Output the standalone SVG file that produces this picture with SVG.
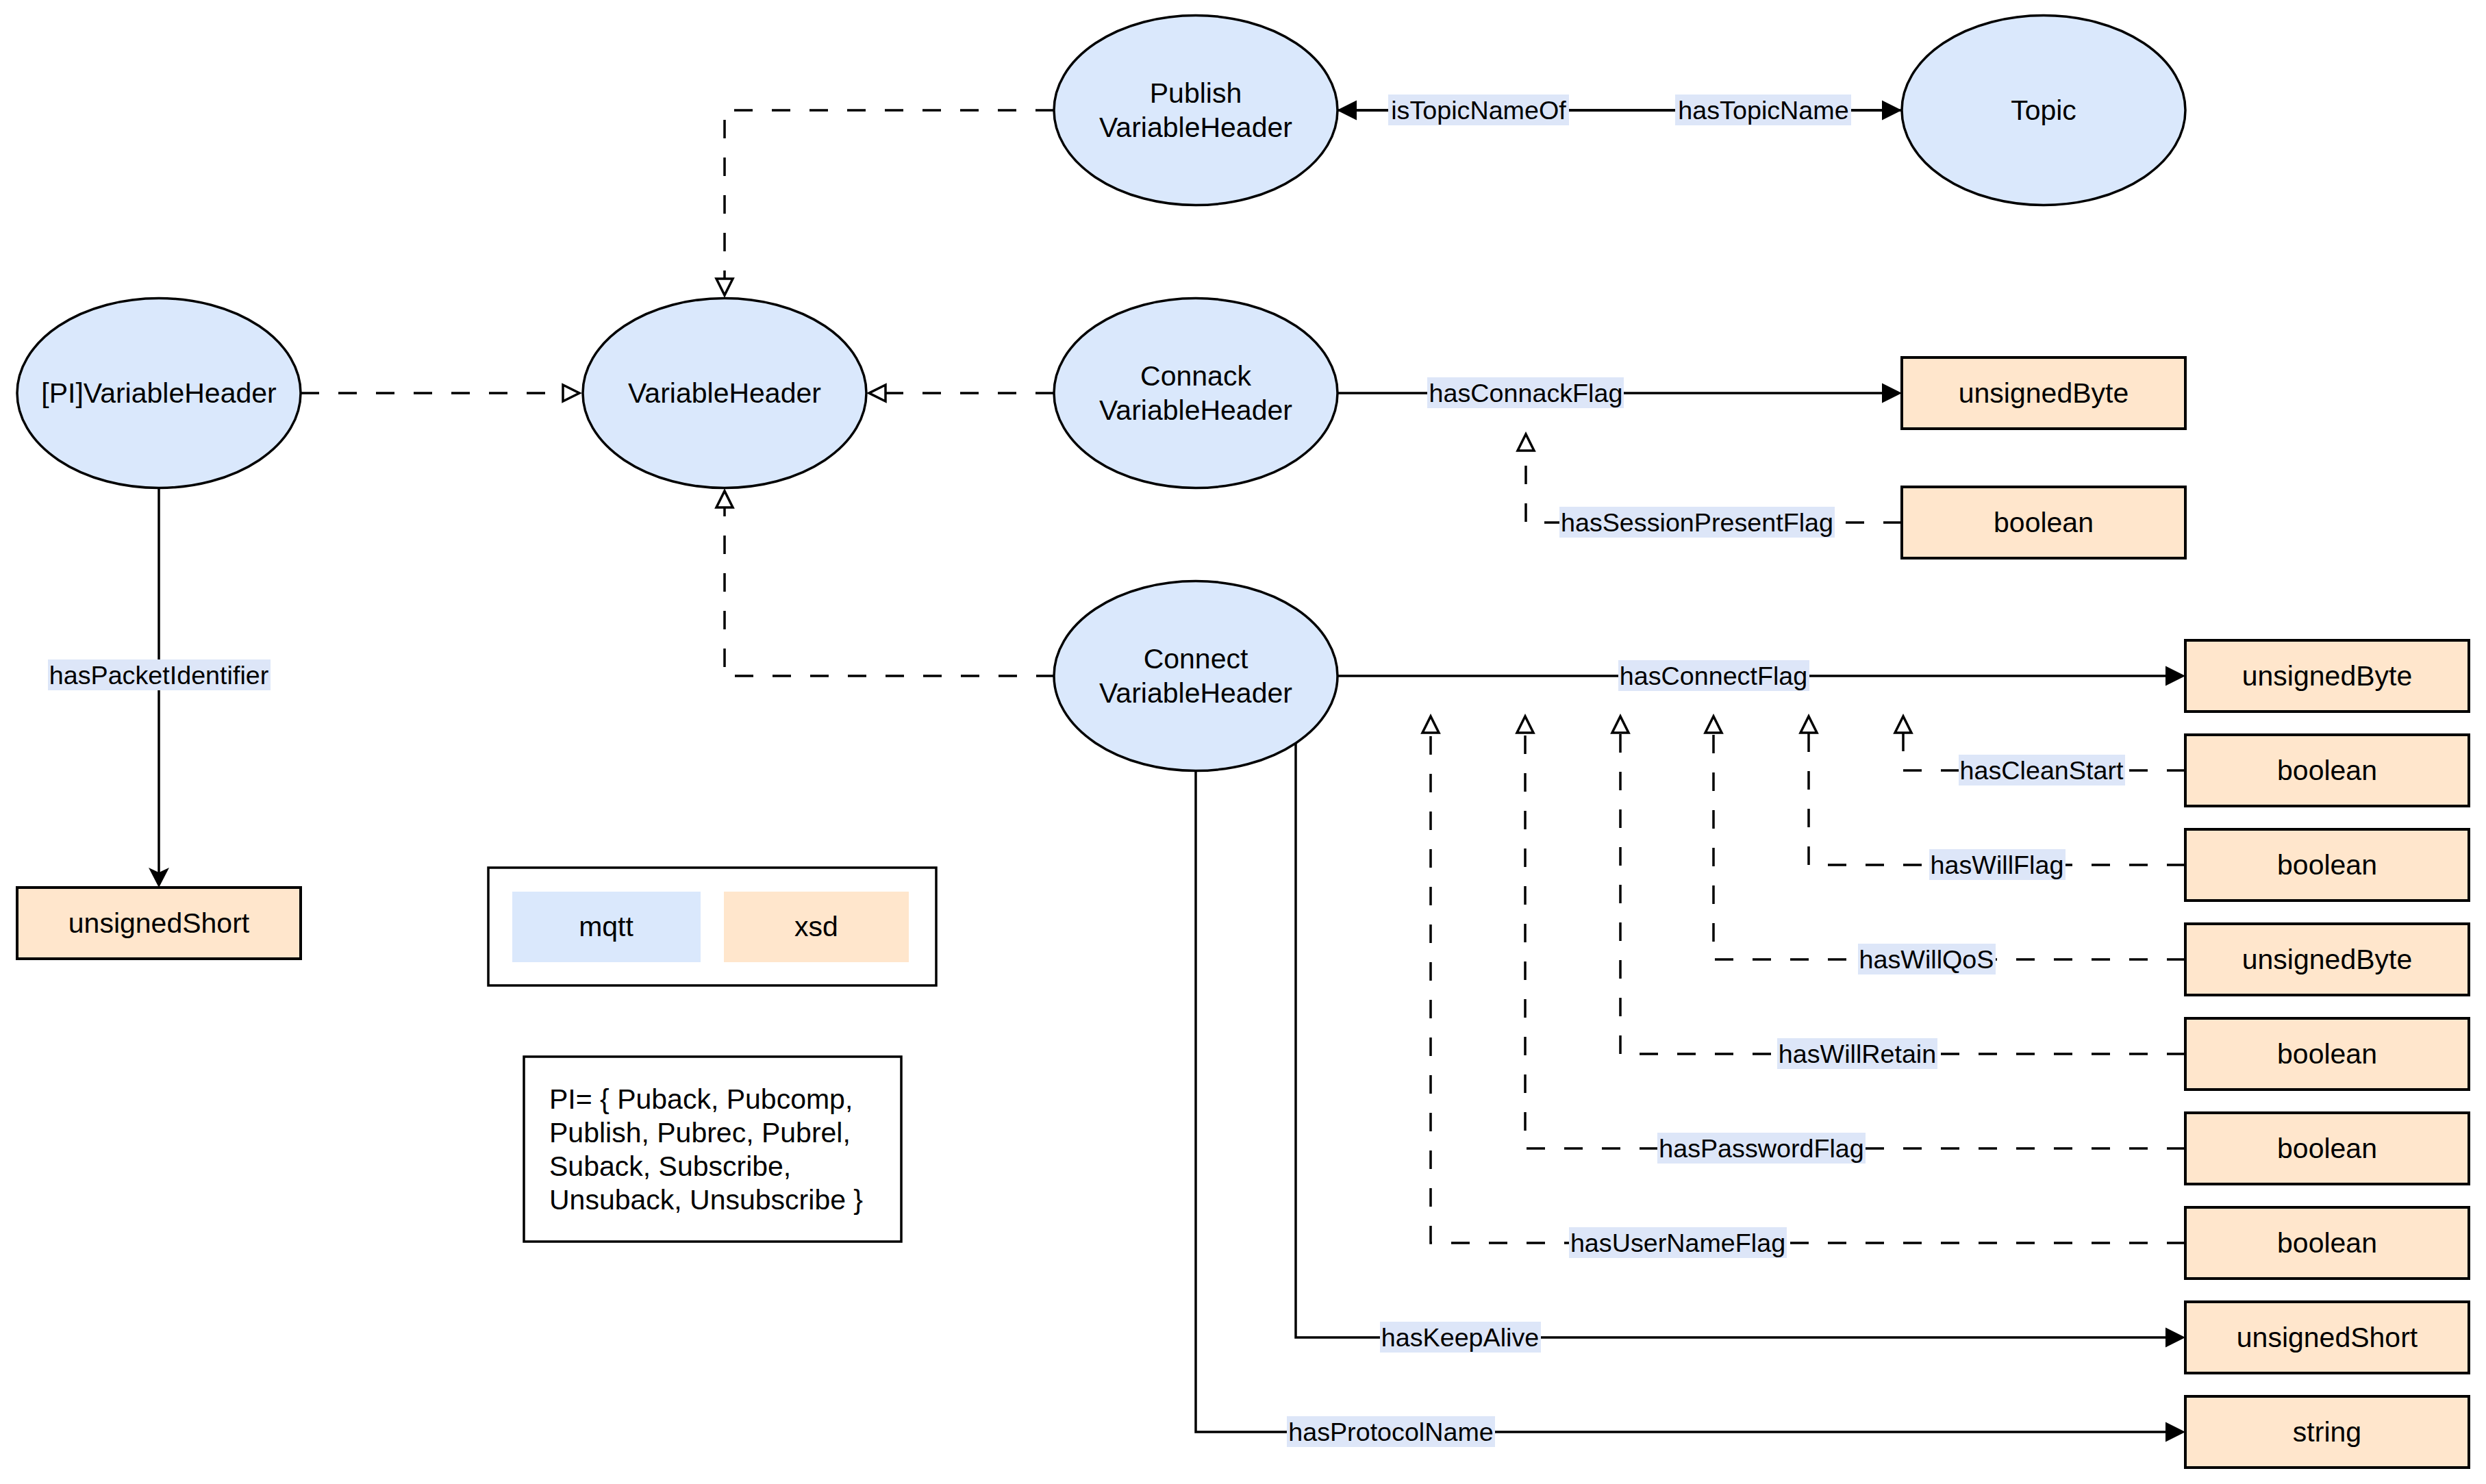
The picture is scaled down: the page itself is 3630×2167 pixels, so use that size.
<svg xmlns="http://www.w3.org/2000/svg" width="3630" height="2167" viewBox="0 0 3630 2167">
<style>
.ell{fill:#dae8fc;stroke:#000;stroke-width:3.5}
.box{fill:#ffe6cc;stroke:#000;stroke-width:4}
.frame{fill:#fff;stroke:#000;stroke-width:3.5}
.t{font-family:"Liberation Sans",Arial,sans-serif;font-size:41px;fill:#000;text-anchor:middle}
.tl{font-family:"Liberation Sans",Arial,sans-serif;font-size:41px;fill:#000}
.e{fill:none;stroke:#000;stroke-width:3.5}
.d{stroke-dasharray:27 28}
.lb{fill:#dde6f8}
.lt{font-family:"Liberation Sans",Arial,sans-serif;font-size:37.7px;fill:#000;text-anchor:middle}
</style>
<defs>
<marker id="hollow" markerUnits="userSpaceOnUse" viewBox="-5 -20 40 40" markerWidth="40" markerHeight="40" refX="0" refY="0" orient="auto" overflow="visible">
<path d="M0,-12 L24,0 L0,12 Z" fill="#fff" stroke="#000" stroke-width="3.5" stroke-dasharray="none"/>
</marker>
<marker id="block" markerUnits="userSpaceOnUse" viewBox="-2 -20 40 40" markerWidth="40" markerHeight="40" refX="0" refY="0" orient="auto" overflow="visible">
<path d="M0,-14.5 L29,0 L0,14.5 Z" fill="#000" stroke="none"/>
</marker>
<marker id="classic" markerUnits="userSpaceOnUse" viewBox="-2 -20 40 40" markerWidth="40" markerHeight="40" refX="7" refY="0" orient="auto" overflow="visible">
<path d="M0,-15 L29,0 L0,15 L7,0 Z" fill="#000" stroke="none"/>
</marker>
</defs>
<rect x="0" y="0" width="3630" height="2167" fill="#fff"/>
<g id="connectors">
<path class="e d" d="M1539 161 H1058 V407" marker-end="url(#hollow)"/>
<path class="e d" d="M439 574 H822" marker-end="url(#hollow)"/>
<path class="e d" d="M1539 574 H1293" marker-end="url(#hollow)"/>
<path class="e d" d="M1540 987 H1058 V741" marker-end="url(#hollow)"/>
<path class="e" d="M1952 161 H2748" marker-end="url(#block)"/>
<path class="e" d="M2777 161 H1981" marker-end="url(#block)"/>
<path class="e" d="M1952 574 H2748" marker-end="url(#block)"/>
<path class="e d" d="M2777 763 H2228 V658" marker-end="url(#hollow)"/>
<path class="e" d="M232 713 V1274" marker-end="url(#classic)"/>
<path class="e" d="M1952 987 H3162" marker-end="url(#block)"/>
<path class="e d" d="M3191 1125 H2779 V1070" marker-end="url(#hollow)"/>
<path class="e d" d="M3191 1263 H2641 V1070" marker-end="url(#hollow)"/>
<path class="e d" d="M3191 1401 H2502 V1070" marker-end="url(#hollow)"/>
<path class="e d" d="M3191 1539 H2366 V1070" marker-end="url(#hollow)"/>
<path class="e d" d="M3191 1677 H2227 V1070" marker-end="url(#hollow)"/>
<path class="e d" d="M3191 1815 H2089 V1070" marker-end="url(#hollow)"/>
<path class="e" d="M1892 1086 V1953 H3162" marker-end="url(#block)"/>
<path class="e" d="M1746 1125 V2091 H3162" marker-end="url(#block)"/>
<g id="labels">
<rect class="lb" x="2027" y="138" width="264" height="45"/><text class="lt" x="2159" y="174">isTopicNameOf</text>
<rect class="lb" x="2446" y="138" width="257" height="45"/><text class="lt" x="2575" y="174">hasTopicName</text>
<rect class="lb" x="2084" y="551" width="287" height="45"/><text class="lt" x="2228" y="587">hasConnackFlag</text>
<rect class="lb" x="2277" y="740" width="402" height="45"/><text class="lt" x="2478" y="776">hasSessionPresentFlag</text>
<rect class="lb" x="70" y="963" width="325" height="45"/><text class="lt" x="232" y="999">hasPacketIdentifier</text>
<rect class="lb" x="2363" y="964" width="279" height="45"/><text class="lt" x="2502" y="1000">hasConnectFlag</text>
<rect class="lb" x="2860" y="1102" width="243" height="45"/><text class="lt" x="2981" y="1138">hasCleanStart</text>
<rect class="lb" x="2817" y="1240" width="199" height="45"/><text class="lt" x="2916" y="1276">hasWillFlag</text>
<rect class="lb" x="2713" y="1378" width="201" height="45"/><text class="lt" x="2813" y="1414">hasWillQoS</text>
<rect class="lb" x="2595" y="1516" width="234" height="45"/><text class="lt" x="2712" y="1552">hasWillRetain</text>
<rect class="lb" x="2420" y="1654" width="304" height="45"/><text class="lt" x="2572" y="1690">hasPasswordFlag</text>
<rect class="lb" x="2291" y="1792" width="318" height="45"/><text class="lt" x="2450" y="1828">hasUserNameFlag</text>
<rect class="lb" x="2015" y="1930" width="235" height="45"/><text class="lt" x="2132" y="1966">hasKeepAlive</text>
<rect class="lb" x="1879" y="2068" width="304" height="45"/><text class="lt" x="2031" y="2104">hasProtocolName</text>
</g>
</g>
<g id="node-pi-variableheader"><ellipse class="ell" cx="232" cy="574" rx="207" ry="138.5"/><text class="t" x="232" y="588">[PI]VariableHeader</text></g>
<g id="node-variableheader"><ellipse class="ell" cx="1058" cy="574" rx="207" ry="138.5"/><text class="t" x="1058" y="588">VariableHeader</text></g>
<g id="node-publish"><ellipse class="ell" cx="1746" cy="161" rx="207" ry="138.5"/><text class="t" x="1746" y="150">Publish</text><text class="t" x="1746" y="200">VariableHeader</text></g>
<g id="node-connack"><ellipse class="ell" cx="1746" cy="574" rx="207" ry="138.5"/><text class="t" x="1746" y="563">Connack</text><text class="t" x="1746" y="613">VariableHeader</text></g>
<g id="node-connect"><ellipse class="ell" cx="1746" cy="987" rx="207" ry="138.5"/><text class="t" x="1746" y="976">Connect</text><text class="t" x="1746" y="1026">VariableHeader</text></g>
<g id="node-topic"><ellipse class="ell" cx="2984" cy="161" rx="207" ry="138.5"/><text class="t" x="2984" y="175">Topic</text></g>
<g id="node-pi-unsignedshort"><rect class="box" x="25" y="1296" width="414" height="104"/><text class="t" x="232" y="1362">unsignedShort</text></g>
<g id="node-connack-unsignedbyte"><rect class="box" x="2777" y="522" width="414" height="104"/><text class="t" x="2984" y="588">unsignedByte</text></g>
<g id="node-connack-boolean"><rect class="box" x="2777" y="711" width="414" height="104"/><text class="t" x="2984" y="777">boolean</text></g>
<g id="node-connect-unsignedbyte"><rect class="box" x="3191" y="935" width="414" height="104"/><text class="t" x="3398" y="1001">unsignedByte</text></g>
<g id="node-cleanstart-boolean"><rect class="box" x="3191" y="1073" width="414" height="104"/><text class="t" x="3398" y="1139">boolean</text></g>
<g id="node-willflag-boolean"><rect class="box" x="3191" y="1211" width="414" height="104"/><text class="t" x="3398" y="1277">boolean</text></g>
<g id="node-willqos-unsignedbyte"><rect class="box" x="3191" y="1349" width="414" height="104"/><text class="t" x="3398" y="1415">unsignedByte</text></g>
<g id="node-willretain-boolean"><rect class="box" x="3191" y="1487" width="414" height="104"/><text class="t" x="3398" y="1553">boolean</text></g>
<g id="node-password-boolean"><rect class="box" x="3191" y="1625" width="414" height="104"/><text class="t" x="3398" y="1691">boolean</text></g>
<g id="node-username-boolean"><rect class="box" x="3191" y="1763" width="414" height="104"/><text class="t" x="3398" y="1829">boolean</text></g>
<g id="node-keepalive-unsignedshort"><rect class="box" x="3191" y="1901" width="414" height="104"/><text class="t" x="3398" y="1967">unsignedShort</text></g>
<g id="node-protocolname-string"><rect class="box" x="3191" y="2039" width="414" height="104"/><text class="t" x="3398" y="2105">string</text></g>
<g id="legend">
<rect class="frame" x="713" y="1267" width="654" height="172"/>
<rect x="748" y="1302" width="275" height="103" fill="#dae8fc"/>
<text class="t" x="885" y="1367">mqtt</text>
<rect x="1057" y="1302" width="270" height="103" fill="#ffe6cc"/>
<text class="t" x="1192" y="1367">xsd</text>
</g>
<g id="note">
<rect class="frame" x="765" y="1543" width="551" height="270"/>
<text class="tl" x="802" y="1619">PI= { Puback, Pubcomp,</text>
<text class="tl" x="802" y="1668">Publish, Pubrec, Pubrel,</text>
<text class="tl" x="802" y="1717">Suback, Subscribe,</text>
<text class="tl" x="802" y="1766">Unsuback, Unsubscribe }</text>
</g>
</svg>
